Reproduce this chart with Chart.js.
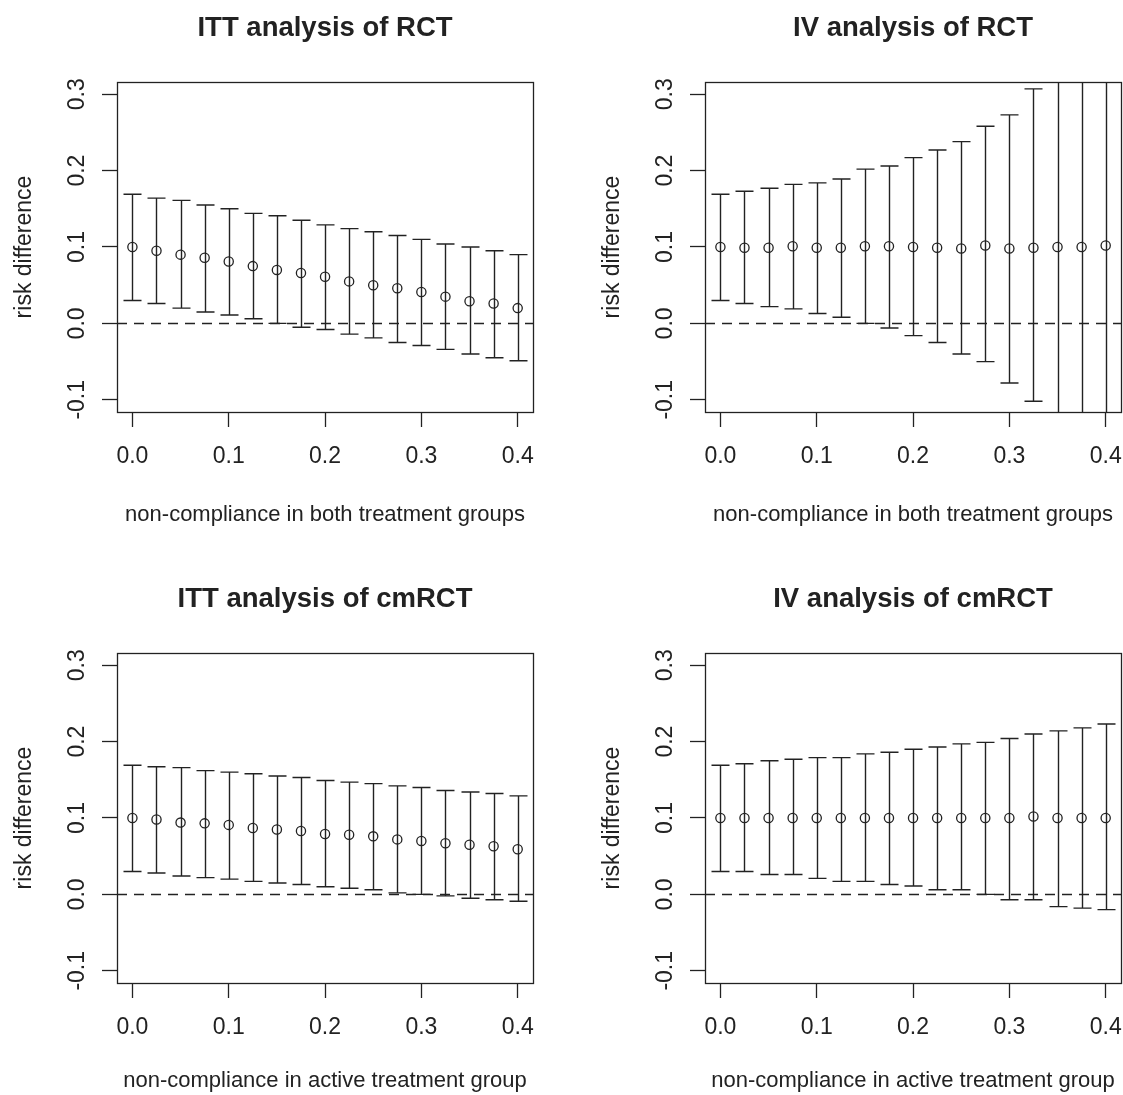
<!DOCTYPE html>
<html>
<head>
<meta charset="utf-8">
<script src="https://cdn.jsdelivr.net/npm/chart.js@4.4.1/dist/chart.umd.min.js"></script>
<style>
html,body{margin:0;padding:0;background:#ffffff;width:1123px;height:1095px;overflow:hidden;position:relative;}
.panel{position:absolute;width:539px;height:545px;}
.panel canvas{display:block;}
</style>
</head>
<body>
<div class="panel" style="left:0px;top:0px"><canvas id="c0" width="539" height="545"></canvas></div>
<div class="panel" style="left:588px;top:0px"><canvas id="c1" width="539" height="545"></canvas></div>
<div class="panel" style="left:0px;top:571px"><canvas id="c2" width="539" height="545"></canvas></div>
<div class="panel" style="left:588px;top:571px"><canvas id="c3" width="539" height="545"></canvas></div>
<script>
// ---- data ----
const nonCompliance = [0, 0.025, 0.05, 0.075, 0.1, 0.125, 0.15, 0.175, 0.2, 0.225, 0.25, 0.275, 0.3, 0.325, 0.35, 0.375, 0.4];
const xTicks = [0, 0.1, 0.2, 0.3, 0.4];
const yTicks = [-0.1, 0, 0.1, 0.2, 0.3];
const panelTitles = ['ITT analysis of RCT', 'IV analysis of RCT', 'ITT analysis of cmRCT', 'IV analysis of cmRCT'];
const xAxisTitles = ['non-compliance in both treatment groups', 'non-compliance in both treatment groups',
                     'non-compliance in active treatment group', 'non-compliance in active treatment group'];
const yAxisTitle = 'risk difference';

const ittRctEst  = [0.100, 0.095, 0.090, 0.086, 0.081, 0.075, 0.070, 0.066, 0.061, 0.055, 0.050, 0.046, 0.041, 0.035, 0.029, 0.026, 0.020];
const ittRctLow  = [0.030, 0.026, 0.020, 0.015, 0.011, 0.006, 0.000, -0.005, -0.008, -0.014, -0.019, -0.025, -0.029, -0.034, -0.040, -0.045, -0.049];
const ittRctHigh = [0.169, 0.164, 0.161, 0.155, 0.150, 0.144, 0.141, 0.135, 0.129, 0.124, 0.120, 0.115, 0.110, 0.104, 0.100, 0.095, 0.090];

const ivRctEst  = [0.100, 0.099, 0.099, 0.101, 0.099, 0.099, 0.101, 0.101, 0.100, 0.099, 0.098, 0.102, 0.098, 0.099, 0.100, 0.100, 0.102];
const ivRctLow  = [0.030, 0.026, 0.022, 0.019, 0.013, 0.008, 0.000, -0.006, -0.016, -0.025, -0.040, -0.050, -0.078, -0.102, -0.150, -0.220, -0.300];
const ivRctHigh = [0.169, 0.173, 0.177, 0.182, 0.184, 0.189, 0.202, 0.206, 0.217, 0.227, 0.238, 0.258, 0.273, 0.307, 0.350, 0.420, 0.500];

const ittCmEst  = [0.100, 0.098, 0.094, 0.093, 0.091, 0.087, 0.085, 0.083, 0.079, 0.078, 0.076, 0.072, 0.070, 0.067, 0.065, 0.063, 0.059];
const ittCmLow  = [0.030, 0.028, 0.024, 0.022, 0.020, 0.017, 0.015, 0.013, 0.010, 0.008, 0.006, 0.002, 0.000, -0.002, -0.005, -0.007, -0.009];
const ittCmHigh = [0.169, 0.167, 0.166, 0.162, 0.160, 0.158, 0.155, 0.153, 0.149, 0.147, 0.145, 0.142, 0.140, 0.136, 0.134, 0.132, 0.129];

const ivCmEst  = [0.100, 0.100, 0.100, 0.100, 0.100, 0.100, 0.100, 0.100, 0.100, 0.100, 0.100, 0.100, 0.100, 0.102, 0.100, 0.100, 0.100];
const ivCmLow  = [0.030, 0.030, 0.026, 0.026, 0.021, 0.017, 0.017, 0.013, 0.011, 0.006, 0.006, 0.000, -0.007, -0.007, -0.016, -0.018, -0.020];
const ivCmHigh = [0.169, 0.171, 0.175, 0.177, 0.179, 0.179, 0.184, 0.186, 0.190, 0.193, 0.197, 0.199, 0.204, 0.210, 0.214, 0.218, 0.223];

// ---- styling ----
const INK = '#222222';
const FONT = "'Liberation Sans', Arial, Helvetica, sans-serif";

const rPlotPlugin = {
  id: 'rPlot',
  beforeDatasetsDraw(chart) {
    const opts = chart.options.plugins.rPlot;
    const {ctx, chartArea: a, scales: {x, y}} = chart;
    ctx.save();
    ctx.beginPath();
    ctx.rect(a.left, a.top, a.right - a.left, a.bottom - a.top);
    ctx.clip();
    // dashed reference line at zero
    const y0 = Math.round(y.getPixelForValue(0)) + 0.5;
    ctx.strokeStyle = INK;
    ctx.lineWidth = 1.3;
    ctx.setLineDash([10, 7]);
    ctx.beginPath();
    ctx.moveTo(a.left, y0);
    ctx.lineTo(a.right, y0);
    ctx.stroke();
    ctx.setLineDash([]);
    // error bars
    ctx.lineWidth = 1.4;
    const cap = 9;
    nonCompliance.forEach((xv, i) => {
      const px = Math.round(x.getPixelForValue(xv)) + 0.5;
      const lo = y.getPixelForValue(opts.low[i]);
      const hi = y.getPixelForValue(opts.high[i]);
      ctx.beginPath();
      ctx.moveTo(px, lo); ctx.lineTo(px, hi);
      ctx.moveTo(px - cap, lo); ctx.lineTo(px + cap, lo);
      ctx.moveTo(px - cap, hi); ctx.lineTo(px + cap, hi);
      ctx.stroke();
    });
    ctx.restore();
  },
  afterDraw(chart) {
    const {ctx, chartArea: a} = chart;
    ctx.save();
    ctx.strokeStyle = INK;
    ctx.lineWidth = 1.3;
    ctx.strokeRect(Math.round(a.left) + 0.5, Math.round(a.top) + 0.5,
                   Math.round(a.right - a.left), Math.round(a.bottom - a.top));
    ctx.restore();
  }
};

function makeChart(id, title, xTitle, xTitlePad, est, low, high) {
  return new Chart(document.getElementById(id), {
    type: 'scatter',
    data: {
      datasets: [{
        data: nonCompliance.map((xv, i) => ({x: xv, y: est[i]})),
        pointStyle: 'circle',
        pointRadius: 4.6,
        pointBorderWidth: 1.3,
        pointBackgroundColor: 'rgba(0,0,0,0)',
        pointBorderColor: INK,
        showLine: false
      }]
    },
    options: {
      responsive: false,
      animation: false,
      events: [],
      devicePixelRatio: 1,
      layout: {padding: {left: 0, right: 2, top: 0, bottom: 0}},
      plugins: {
        legend: {display: false},
        tooltip: {enabled: false},
        title: {
          display: true, text: title, fullSize: false, color: INK,
          font: {family: FONT, size: 27.5, weight: 'bold'},
          padding: {top: 12, bottom: 37}
        },
        rPlot: {low: low, high: high}
      },
      scales: {
        x: {
          type: 'linear', min: -0.016, max: 0.416,
          afterBuildTicks: s => { s.ticks = xTicks.map(v => ({value: v})); },
          afterFit: s => { s.height = 133; s.paddingLeft = 0; s.paddingRight = 0; },
          grid: {display: true, drawOnChartArea: false, drawTicks: true, tickLength: 15, tickColor: INK, tickWidth: 1.3},
          border: {display: false},
          ticks: {color: INK, font: {family: FONT, size: 23}, padding: 16, maxRotation: 0, minRotation: 0,
                  autoSkip: false, callback: v => Number(v).toFixed(1)},
          title: {display: true, text: xTitle, color: INK, font: {family: FONT, size: 22}, padding: {top: 0, bottom: xTitlePad}}
        },
        y: {
          type: 'linear', min: -0.116, max: 0.316,
          afterBuildTicks: s => { s.ticks = yTicks.map(v => ({value: v})); },
          afterFit: s => { s.width = 117; s.paddingTop = 0; s.paddingBottom = 0; },
          grid: {display: true, drawOnChartArea: false, drawTicks: true, tickLength: 15, tickColor: INK, tickWidth: 1.3},
          border: {display: false},
          ticks: {color: INK, font: {family: FONT, size: 23}, padding: 5, minRotation: 90, maxRotation: 90,
                  crossAlign: 'center', autoSkip: false, callback: v => Number(v).toFixed(1)},
          title: {display: true, text: yAxisTitle, color: INK, font: {family: FONT, size: 23}, padding: {top: 11, bottom: 0}}
        }
      }
    },
    plugins: [rPlotPlugin]
  });
}

makeChart('c0', panelTitles[0], xAxisTitles[0], 17, ittRctEst, ittRctLow, ittRctHigh);
makeChart('c1', panelTitles[1], xAxisTitles[1], 17, ivRctEst, ivRctLow, ivRctHigh);
makeChart('c2', panelTitles[2], xAxisTitles[2], 22, ittCmEst, ittCmLow, ittCmHigh);
makeChart('c3', panelTitles[3], xAxisTitles[3], 22, ivCmEst, ivCmLow, ivCmHigh);
</script>
</body>
</html>
